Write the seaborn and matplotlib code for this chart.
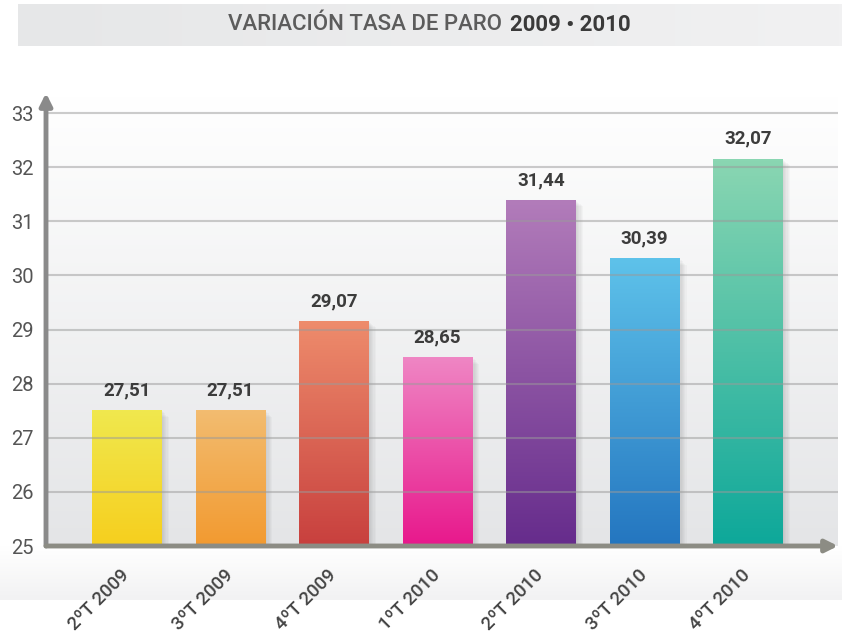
import numpy as np
import pandas as pd
import seaborn as sns
import matplotlib.pyplot as plt
from matplotlib.colors import to_rgb
from matplotlib.patches import Rectangle

# datos
trimestres = ["2ºT 2009", "3ºT 2009", "4ºT 2009", "1ºT 2010", "2ºT 2010", "3ºT 2010", "4ºT 2010"]
altura = [27.51, 27.51, 29.16, 28.49, 31.40, 30.32, 32.16]
etiquetas = ["27,51", "27,51", "29,07", "28,65", "31,44", "30,39", "32,07"]
color_arriba = ["#f0e84e", "#f3bc70", "#ee8c6c", "#ef86c4", "#b27cba", "#5ec2ea", "#8ad6b2"]
color_abajo = ["#f6cf1e", "#f29a30", "#c8403e", "#e8188c", "#662c8c", "#2476c0", "#0ea89a"]

df = pd.DataFrame({"trimestre": trimestres, "tasa": altura})

sns.set_theme(style="white")
plt.rcParams["font.family"] = ["Roboto", "DejaVu Sans"]

fig = plt.figure(figsize=(8.42, 6.36), dpi=100)
W, H = 842, 636

# fondo general
bg = fig.add_axes([0, 0, 1, 1], zorder=-10)
bg.axis("off")
# franja del titulo
franja = np.zeros((1, 256, 3))
for k in range(3):
    franja[0, :, k] = np.interp(np.linspace(0, 1, 256), [0, 1],
                                [to_rgb("#e6e7e8")[k], to_rgb("#f1f1f2")[k]])
bg.imshow(franja, extent=[18, W, 46, 4], aspect="auto")
# degradado suave bajo el eje
bajo = np.zeros((64, 1, 3))
for k in range(3):
    bajo[:, 0, k] = np.interp(np.linspace(0, 1, 64), [0, 1],
                              [to_rgb("#f2f2f3")[k], 1.0])
bg.imshow(bajo, extent=[0, W, 546, 600], aspect="auto")
bg.set_xlim(0, W)
bg.set_ylim(H, 0)

bg.text(502, 25, "VARIACIÓN TASA DE PARO", ha="right", va="center",
        fontsize=16, color="#5c5c5c", fontweight="medium")
bg.text(510, 25, "2009 • 2010", ha="left", va="center",
        fontsize=16, color="#3a3a3a", fontweight="bold")

ax = fig.add_axes([46 / W, 90 / H, (838 - 46) / W, (546 - 93) / H])
ax.patch.set_alpha(0)

sns.barplot(data=df, x="trimestre", y="tasa", ax=ax, width=0.67,
            color="#cccccc", saturation=1, zorder=3)

x0, x1 = -0.78, 6.87
y0, y1 = 25, 25 + (546 - 93) / 54.1

# fondo del area de trazado
fondo = np.zeros((128, 1, 3))
for k in range(3):
    fondo[:, 0, k] = np.interp(np.linspace(0, 1, 128), [0, 1],
                               [1.0, to_rgb("#e4e5e7")[k]])
ax.imshow(fondo, extent=[x0, x1, y0, y1], aspect="auto", zorder=0)

# sombras y degradados de las barras
for i, p in enumerate(ax.patches):
    bx, bw, bh = p.get_x(), p.get_width(), p.get_height()
    for s in range(1, 7):
        ax.add_patch(Rectangle((bx + 0.012 * s, y0), bw, bh - y0 - 0.02 * s,
                               facecolor="#505050", alpha=0.035, lw=0, zorder=2))
    g = np.zeros((128, 1, 3))
    for k in range(3):
        g[:, 0, k] = np.interp(np.linspace(0, 1, 128), [0, 1],
                               [to_rgb(color_arriba[i])[k], to_rgb(color_abajo[i])[k]])
    im = ax.imshow(g, extent=[bx, bx + bw, y0, bh], aspect="auto", zorder=3)
    im.set_clip_path(p)
    p.set_facecolor("none")
    p.set_edgecolor("none")
    ax.text(bx + bw / 2, bh + 0.2, etiquetas[i], ha="center", va="bottom",
            fontsize=13.5, color="#3c3c3c", fontweight="bold", zorder=6)

# lineas de cuadricula
for v in range(26, 34):
    ax.axhline(v, color="#9a9a9a", lw=1.5, alpha=0.5, zorder=4)

ax.set_xlim(x0, x1)
ax.set_ylim(y0, y1)
ax.set_yticks(range(25, 34))
ax.set_yticklabels([str(v) for v in range(25, 34)], fontsize=14.5, color="#555555")
ax.set_xticks(range(len(trimestres)))
ax.set_xticklabels(trimestres, rotation=45, ha="right", va="center",
                   rotation_mode="anchor", fontsize=13.5, color="#444444",
                   fontweight="medium")
ax.tick_params(axis="y", length=0, pad=9)
ax.tick_params(axis="x", length=0, pad=19)
ax.set_xlabel("")
ax.set_ylabel("")
for s in ax.spines.values():
    s.set_visible(False)

# ejes con flecha
ax.annotate("", xy=(0, 1), xytext=(0, 0), xycoords="axes fraction",
            arrowprops=dict(arrowstyle="-|>,head_length=0.6,head_width=0.3",
                            color="#8a8a8a", lw=3.5, shrinkA=0, shrinkB=0), zorder=7)
ax.annotate("", xy=(1, 0), xytext=(0, 0), xycoords="axes fraction",
            arrowprops=dict(arrowstyle="-|>,head_length=0.6,head_width=0.3",
                            color="#8c8c84", lw=3.5, shrinkA=0, shrinkB=0), zorder=7)

fig.savefig("out.png", dpi=100)
